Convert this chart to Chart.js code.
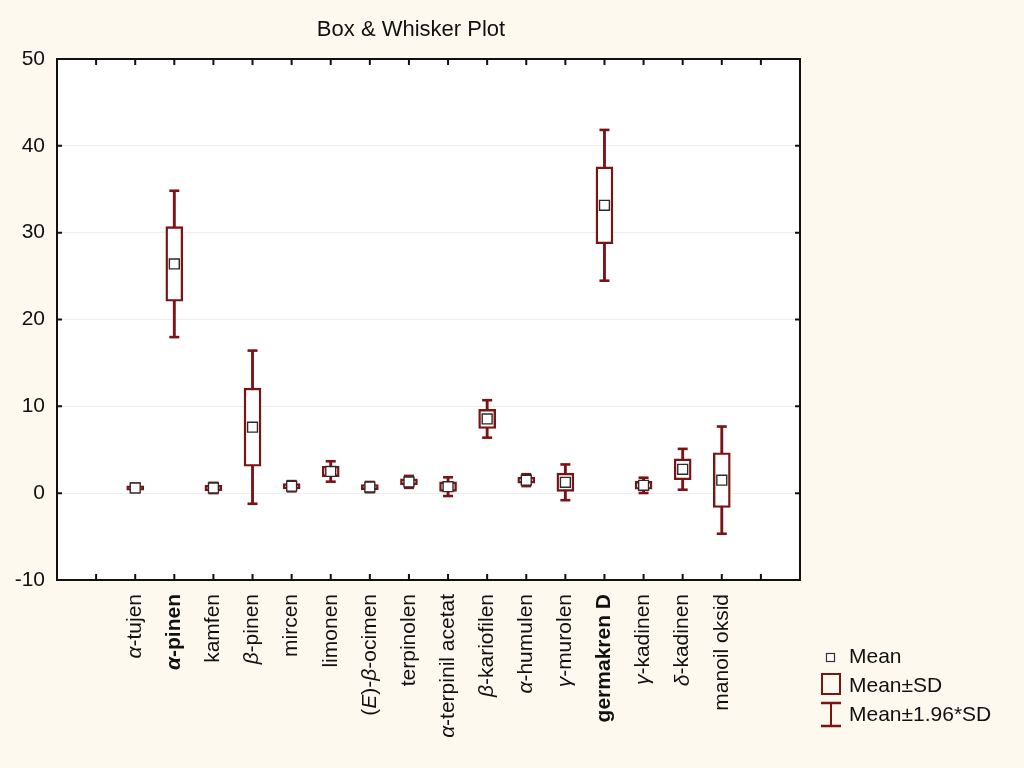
<!DOCTYPE html>
<html>
<head>
<meta charset="utf-8">
<script src="https://cdn.jsdelivr.net/npm/chart.js@4"></script>
<style>
  body { margin: 0; background: #fdf9ef; }
  #wrap { position: relative; width: 1024px; height: 768px; }
  #title {
    position: absolute; left: 0; width: 822px; top: 16px; text-align: center;
    font: 22px "Liberation Sans", Arial, sans-serif; color: #111;
  }
  .leg { position: absolute; left: 849px; font: 21px "Liberation Sans", Arial, sans-serif; color: #111; }
</style>
</head>
<body>
<div id="wrap">
  <canvas id="myChart" width="1024" height="768"></canvas>
  <div id="title">Box &amp; Whisker Plot</div>
  <svg style="position:absolute;left:818px;top:648px" width="28" height="82">
    <rect x="8.5" y="5.5" width="8" height="8" fill="#fff" stroke="#333" stroke-width="1.2"/>
    <rect x="4" y="26" width="18" height="20" fill="none" stroke="#7b1214" stroke-width="2"/>
    <line x1="13" y1="55" x2="13" y2="78" stroke="#7b1214" stroke-width="2"/>
    <line x1="3" y1="55" x2="23" y2="55" stroke="#7b1214" stroke-width="2.5"/>
    <line x1="3" y1="78" x2="23" y2="78" stroke="#7b1214" stroke-width="2.5"/>
  </svg>
  <div class="leg" style="top:644px">Mean</div>
  <div class="leg" style="top:673px">Mean±SD</div>
  <div class="leg" style="top:702px">Mean±1.96*SD</div>
</div>
<script>
const categories = ["α-tujen", "α-pinen", "kamfen", "β-pinen", "mircen", "limonen",
  "(E)-β-ocimen", "terpinolen", "α-terpinil acetat", "β-kariofilen", "α-humulen",
  "γ-murolen", "germakren D", "γ-kadinen", "δ-kadinen", "manoil oksid"];
const means = [0.6, 26.4, 0.6, 7.6, 0.8, 2.5, 0.7, 1.3, 0.75, 8.55, 1.5, 1.25, 33.15, 0.9, 2.75, 1.5];
const sds = [0.25, 4.3, 0.3, 4.5, 0.3, 0.6, 0.3, 0.35, 0.55, 1.1, 0.35, 1.05, 4.43, 0.45, 1.2, 3.15];
const boldLabels = ["α-pinen", "germakren D"];
const yTicks = [-10, 0, 10, 20, 30, 40, 50];

const RED = "#7b1214";
const FONT = '"Liberation Sans", Arial, sans-serif';

function labelParts(name) {
  // greek letters and the E in (E) are set in italics
  const parts = [];
  for (let i = 0; i < name.length; i++) {
    const ch = name[i];
    const italic = "αβγδ".includes(ch) || (ch === "E" && name[i - 1] === "(");
    const last = parts[parts.length - 1];
    if (last && last.italic === italic) last.text += ch;
    else parts.push({ text: ch, italic: italic });
  }
  return parts;
}

const frameAndLabels = {
  id: "frameAndLabels",
  beforeDraw(chart) {
    const { ctx, chartArea: a } = chart;
    ctx.save();
    ctx.fillStyle = "#ffffff";
    ctx.fillRect(a.left, a.top, a.right - a.left, a.bottom - a.top);
    ctx.restore();
  },
  afterDraw(chart) {
    const { ctx, chartArea: a, scales } = chart;
    ctx.save();
    ctx.strokeStyle = "#111";
    ctx.lineWidth = 2;
    ctx.strokeRect(a.left, a.top, a.right - a.left, a.bottom - a.top);
    ctx.beginPath();
    yTicks.forEach(v => {
      const y = scales.y.getPixelForValue(v);
      ctx.moveTo(a.left, y); ctx.lineTo(a.left + 5, y);
      ctx.moveTo(a.right, y); ctx.lineTo(a.right - 5, y);
    });
    for (let i = 0; i <= categories.length + 1; i++) {
      const x = scales.x.getPixelForValue(i);
      ctx.moveTo(x, a.bottom); ctx.lineTo(x, a.bottom - 6);
      ctx.moveTo(x, a.top); ctx.lineTo(x, a.top + 6);
    }
    ctx.stroke();

    ctx.fillStyle = "#111";
    ctx.textBaseline = "middle";
    ctx.textAlign = "left";
    categories.forEach((name, i) => {
      const bold = boldLabels.includes(name) ? "bold " : "";
      const parts = labelParts(name);
      let total = 0;
      parts.forEach(p => {
        p.font = (p.italic ? "italic " : "") + bold + "21px " + FONT;
        ctx.font = p.font;
        p.w = ctx.measureText(p.text).width;
        total += p.w;
      });
      ctx.save();
      ctx.translate(scales.x.getPixelForValue(i + 1), a.bottom + 14);
      ctx.rotate(-Math.PI / 2);
      let pos = -total;
      parts.forEach(p => {
        ctx.font = p.font;
        ctx.fillText(p.text, pos, 0);
        pos += p.w;
      });
      ctx.restore();
    });
    ctx.restore();
  }
};

const meanData = categories.map((c, i) => ({ x: i + 1, y: means[i] }));
const boxData = categories.map((c, i) => ({ x: i + 1, y: [means[i] - sds[i], means[i] + sds[i]] }));
const whiskerData = categories.map((c, i) => ({ x: i + 1, y: [means[i] - 1.96 * sds[i], means[i] + 1.96 * sds[i]] }));
const capData = [];
categories.forEach((c, i) => {
  capData.push({ x: i + 1, y: means[i] + 1.96 * sds[i] });
  capData.push({ x: i + 1, y: means[i] - 1.96 * sds[i] });
});

const config = {
  type: "bar",
  data: {
    datasets: [
      {
        type: "scatter", label: "Mean", data: meanData,
        pointStyle: "rect", radius: 7, backgroundColor: "#ffffff",
        borderColor: "#2b2b2b", borderWidth: 1.4,
      },
      {
        label: "Mean±SD", data: boxData, grouped: false, barThickness: 17,
        backgroundColor: "#ffffff", borderColor: RED, borderWidth: 2.4, borderSkipped: false,
      },
      {
        type: "scatter", label: "caps", data: capData,
        pointStyle: "line", radius: 5, borderColor: RED, borderWidth: 2.6,
      },
      {
        label: "Mean±1.96*SD", data: whiskerData, grouped: false, barThickness: 2.2,
        backgroundColor: RED, borderWidth: 0,
      },
    ],
  },
  options: {
    responsive: false,
    animation: false,
    events: [],
    layout: { padding: { left: 0, top: 59, right: 224, bottom: 0 } },
    plugins: { legend: { display: false }, tooltip: { enabled: false }, title: { display: false } },
    scales: {
      x: {
        type: "linear", min: -1, max: categories.length + 2, offset: false,
        ticks: { display: false },
        grid: { display: false },
        border: { display: false },
        afterFit(scale) { scale.height = 188; },
      },
      y: {
        min: -10, max: 50,
        afterBuildTicks(scale) { scale.ticks = yTicks.map(v => ({ value: v })); },
        ticks: { color: "#111", font: { family: FONT, size: 21 }, padding: 12 },
        grid: { color: "#eeeeee", drawTicks: false },
        border: { display: false },
        afterFit(scale) { scale.width = 57; },
      },
    },
  },
  plugins: [frameAndLabels],
};

const myChart = new Chart(document.getElementById("myChart"), config);
</script>
</body>
</html>
